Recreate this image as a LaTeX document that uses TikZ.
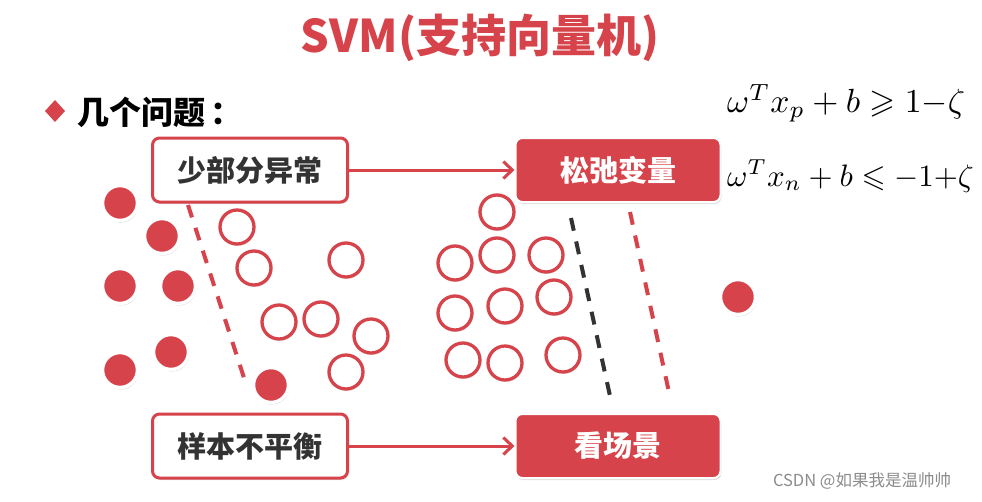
\documentclass[tikz,border=0pt]{standalone}
\usepackage{fontspec}
\usepackage{amssymb}
\usepackage{graphicx}
\newfontfamily\cjk{Noto Sans CJK SC}
\usetikzlibrary{arrows.meta,shadows}
\definecolor{svmred}{HTML}{D6434A}
\definecolor{txtgray}{HTML}{333333}
\tikzset{
 boxbase/.style={line width=3pt, rounded corners=7pt, minimum width=195pt, minimum height=64pt,
   font=\cjk\bfseries\fontsize{29}{34}\selectfont, drop shadow={opacity=0.25, shadow xshift=1pt, shadow yshift=-2pt}},
 whitebox/.style={boxbase, draw=svmred, fill=white, text=txtgray},
 redbox/.style={boxbase, draw=white, line width=2pt, fill=svmred, text=white, minimum width=205pt},
 dot/.style={circle, fill=svmred, draw=white, line width=3.5pt, minimum size=35pt, inner sep=0pt,
   drop shadow={opacity=0.3, shadow xshift=1pt, shadow yshift=-2pt}},
 ring/.style={circle, fill=white, draw=svmred, line width=3.3pt, minimum size=34pt, inner sep=0pt,
   drop shadow={opacity=0.2, shadow xshift=1pt, shadow yshift=-2pt}},
 flow/.style={draw=svmred, line width=3pt, -{Straight Barb[length=9pt,width=17pt,line width=3pt]}},
 sepline/.style={line width=4pt, dash pattern=on 13pt off 11pt},
 eq/.style={anchor=west, inner sep=0pt},
}
\begin{document}
\begin{tikzpicture}[x=1pt,y=-1pt]
\useasboundingbox[fill=white] (0,0) rectangle (982,501);
% title
\node (title) at (480,38) {\cjk\bfseries\fontsize{45}{52}\selectfont\color{svmred}SVM(支持向量机)};
% bullet
\fill[svmred] (45,111) -- (55,100) -- (65,111) -- (55,122) -- cycle;
\node[anchor=west, inner sep=0pt] (q) at (77,112) {\cjk\bfseries\fontsize{32}{38}\selectfont 几个问题\,：};
% equations
\node[eq] (e1) at (727,103) {\scalebox{3.35}{$\omega^T x_p + b \geqslant 1{-}\zeta$}};
\node[eq] (e2) at (727,176) {\scalebox{3.1}{$\omega^T x_n + b \leqslant -1{+}\zeta$}};
% separating lines
\coordinate (l1a) at (188,205); \coordinate (l1b) at (246,384);
\coordinate (l2a) at (571,218); \coordinate (l2b) at (612,405);
\coordinate (l3a) at (630,212); \coordinate (l3b) at (670,397);
\draw[sepline, svmred] (l1a) -- (l1b);
\draw[sepline, black!80] (l2a) -- (l2b);
\draw[sepline, svmred] (l3a) -- (l3b);
% filled dots
\node[dot] (f1) at (120,203) {};
\node[dot] (f2) at (162,236) {};
\node[dot] (f3) at (120,286) {};
\node[dot] (f4) at (178,286) {};
\node[dot] (f5) at (171,352) {};
\node[dot] (f6) at (120,370) {};
\node[dot] (f7) at (271,385) {};
\node[dot] (f8) at (738,297) {};
% rings
\node[ring] (o1) at (237,227) {};
\node[ring] (o2) at (254,268) {};
\node[ring] (o3) at (346,260) {};
\node[ring] (o4) at (279,322) {};
\node[ring] (o5) at (321,319) {};
\node[ring] (o6) at (371,336) {};
\node[ring] (o7) at (346,372) {};
\node[ring] (o8) at (455,263) {};
\node[ring] (o9) at (497,212) {};
\node[ring] (o10) at (497,255) {};
\node[ring] (o11) at (546,255) {};
\node[ring] (o12) at (455,313) {};
\node[ring] (o13) at (505,306) {};
\node[ring] (o14) at (554,297) {};
\node[ring] (o15) at (463,360) {};
\node[ring] (o16) at (505,363) {};
\node[ring] (o17) at (563,355) {};
% boxes
\node[whitebox] (a) at (250,170) {少部分异常};
\node[redbox] (b) at (618,170) {松弛变量};
\node[whitebox] (c) at (250,446) {样本不平衡};
\node[redbox] (d) at (618,446) {看场景};
\draw[flow] (a.east) -- (b.west);
\draw[flow] (c.east) -- (d.west);
% watermark
\node[text=black!45, font=\cjk\fontsize{16.5}{19}\selectfont] (wm) at (862,481) {CSDN @如果我是温帅帅};
\end{tikzpicture}
\end{document}
